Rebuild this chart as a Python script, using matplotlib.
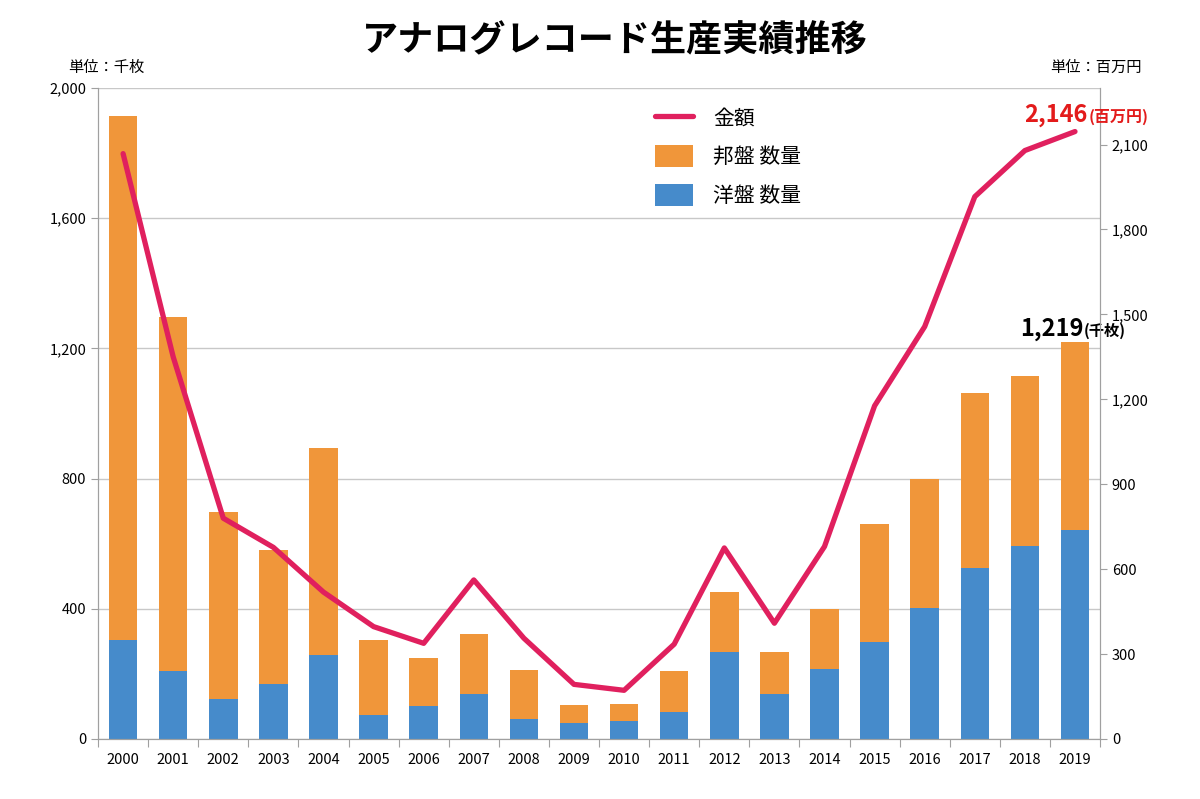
import matplotlib
matplotlib.use('Agg')
import matplotlib.pyplot as plt
import numpy as np
from matplotlib.ticker import FuncFormatter, FixedLocator

plt.rcParams['font.family'] = ['Noto Sans CJK JP', 'DejaVu Sans']


class Colors():
    ORANGE = '#F0963A'
    BLUE = '#468BCB'
    LINE = '#E0205E'
    GRID = '#C8C8C8'
    SPINE = '#A0A0A0'
    RED = '#E31B1B'


years = ['2000', '2001', '2002', '2003', '2004', '2005', '2006', '2007', '2008', '2009',
         '2010', '2011', '2012', '2013', '2014', '2015', '2016', '2017', '2018', '2019']

# 洋盤 数量 (千枚)
western_qty = [304, 210, 124, 168, 258, 74, 101, 138, 61, 49,
               54, 84, 266, 137, 214, 299, 403, 524, 594, 641]
# 邦盤 数量 (千枚)
domestic_qty = [1609, 1086, 572, 412, 635, 230, 147, 185, 151, 55,
                52, 125, 185, 130, 185, 361, 396, 538, 521, 578]
# 金額 (百万円)
amount = [2068, 1350, 780, 677, 519, 397, 338, 562, 356, 193,
          172, 335, 675, 409, 680, 1177, 1457, 1916, 2079, 2146]

left_ticks = [0, 400, 800, 1200, 1600, 2000]
right_ticks = [0, 300, 600, 900, 1200, 1500, 1800, 2100]

x = np.arange(len(years))
total_qty = np.array(western_qty) + np.array(domestic_qty)

fig = plt.figure(figsize=(12, 7.99), dpi=100)
ax = fig.add_axes([0.0817, 0.0751, 0.835, 0.8148])

ax.bar(x, western_qty, width=0.57, color=Colors.BLUE, label='洋盤 数量', zorder=2)
ax.bar(x, domestic_qty, width=0.57, bottom=western_qty, color=Colors.ORANGE, label='邦盤 数量', zorder=2)

ax.set_xlim(-0.5, len(years) - 0.5)
ax.set_ylim(0, 2000)
ax.set_yticks(left_ticks)
ax.yaxis.set_major_formatter(FuncFormatter(lambda v, p: f'{int(v):,}'))
ax.yaxis.grid(True, color=Colors.GRID, linewidth=1, zorder=0)
ax.set_axisbelow(True)

# category boundary ticks, labels centred
ax.xaxis.set_major_locator(FixedLocator(np.arange(-0.5, len(years), 1.0)))
ax.xaxis.set_major_formatter(FuncFormatter(lambda v, p: ''))
ax.xaxis.set_minor_locator(FixedLocator(x))
ax.set_xticklabels(years, minor=True)
ax.tick_params(axis='x', which='major', length=6, color=Colors.SPINE)
ax.tick_params(axis='x', which='minor', length=0, labelsize=10.5, pad=10)
ax.tick_params(axis='y', length=5, color=Colors.SPINE, labelsize=10.5)

ax.spines['top'].set_visible(False)
for side in ['left', 'bottom', 'right']:
    ax.spines[side].set_color(Colors.SPINE)

ax2 = ax.twinx()
ax2.plot(x, amount, color=Colors.LINE, linewidth=3.8, label='金額', solid_capstyle='round', zorder=3)
ax2.set_ylim(0, 2300)
ax2.set_yticks(right_ticks)
ax2.yaxis.set_major_formatter(FuncFormatter(lambda v, p: f'{int(v):,}'))
ax2.tick_params(axis='y', length=5, color=Colors.SPINE, labelsize=10.5)
ax2.spines['top'].set_visible(False)
for side in ['left', 'bottom', 'right']:
    ax2.spines[side].set_color(Colors.SPINE)

# legend: 金額, 邦盤, 洋盤
h1, l1 = ax.get_legend_handles_labels()
h2, l2 = ax2.get_legend_handles_labels()
ax2.legend([h2[0], h1[1], h1[0]], [l2[0], l1[1], l1[0]],
           loc='upper left', bbox_to_anchor=(0.537, 1.0), frameon=False,
           fontsize=15, handlelength=1.85, handleheight=1.25, labelspacing=0.75,
           handletextpad=0.95)

# value callouts for the last year
last = len(years) - 1
ax2.annotate(f'{amount[last]:,}', xy=(x[last], amount[last]), xytext=(9, 7),
             textcoords='offset points', ha='right', va='baseline',
             fontsize=17, fontweight='bold', color=Colors.RED)
ax2.annotate('(百万円)', xy=(x[last], amount[last]), xytext=(9.5, 7),
             textcoords='offset points', ha='left', va='baseline',
             fontsize=11.5, fontweight='bold', color=Colors.RED)
ax.annotate(f'{int(total_qty[last]):,}', xy=(x[last], total_qty[last]), xytext=(6, 4.5),
            textcoords='offset points', ha='right', va='baseline',
            fontsize=17, fontweight='bold', color='black')
ax.annotate('(千枚)', xy=(x[last], total_qty[last]), xytext=(6.5, 4.5),
            textcoords='offset points', ha='left', va='baseline',
            fontsize=11, fontweight='bold', color='black')

fig.text(0.512, 0.949, 'アナログレコード生産実績推移', ha='center', va='center',
         fontsize=26, fontweight='bold')
fig.text(0.057, 0.916, '単位：千枚', ha='left', va='center', fontsize=11)
fig.text(0.951, 0.916, '単位：百万円', ha='right', va='center', fontsize=11)

fig.savefig('out.png', dpi=100)
